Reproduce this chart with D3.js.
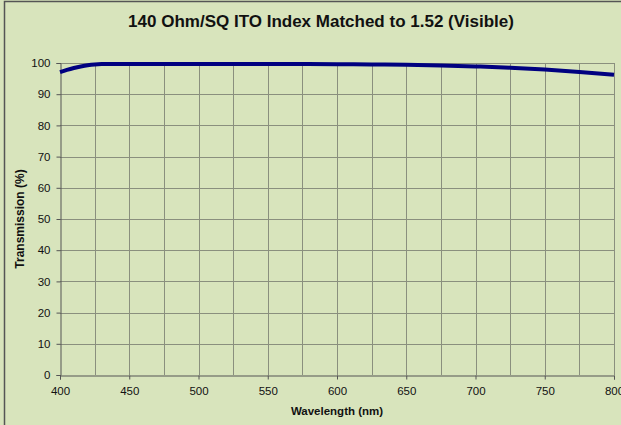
<!DOCTYPE html>
<html>
<head>
<meta charset="utf-8">
<script src="https://cdn.jsdelivr.net/npm/d3@7"></script>
<style>
  body { margin: 0; background: #d8e4bc; }
  svg { display: block; font-family: "Liberation Sans", Arial, sans-serif; }
</style>
</head>
<body>
<div id="chart"></div>
<script>
// Wavelength (nm) and transmission (%)
const wavelengths = [400, 405, 410, 415, 420, 425, 430, 450, 500, 550, 600, 625, 650, 675, 700, 725, 750, 775, 800];
const transmission = [97.1, 97.8, 98.4, 98.9, 99.3, 99.55, 99.65, 99.7, 99.7, 99.7, 99.6, 99.55, 99.45, 99.2, 98.9, 98.5, 97.9, 97.1, 96.2];
const xTicks = [400, 450, 500, 550, 600, 650, 700, 750, 800];
const xGrid = [425, 450, 475, 500, 525, 550, 575, 600, 625, 650, 675, 700, 725, 750, 775, 800];
const yTicks = [0, 10, 20, 30, 40, 50, 60, 70, 80, 90, 100];

const width = 621;
const height = 425;
const margin = { top: 63, right: 7, bottom: 50, left: 60 };

const data = wavelengths.map((w, i) => ({ w, t: transmission[i] }));

const svg = d3.select('#chart')
  .append('svg')
  .attr('width', width)
  .attr('height', height);

// background + outer frame (right/bottom edges fall outside the picture)
svg.append('rect')
  .attr('width', width).attr('height', height)
  .attr('fill', '#d8e4bc');
svg.append('rect')
  .attr('x', 4.5).attr('y', 1.5)
  .attr('width', 700).attr('height', 500)
  .attr('fill', 'none')
  .attr('stroke', '#555')
  .attr('stroke-width', 1.5);

const x = d3.scaleLinear()
  .domain([400, 800])
  .range([margin.left, width - margin.right]);

const y = d3.scaleLinear()
  .domain([0, 100])
  .range([height - margin.bottom, margin.top]);

// gridlines
const grid = svg.append('g').attr('stroke', '#8a8f7e').attr('stroke-width', 1);
grid.selectAll('line.h')
  .data(yTicks.filter(d => d > 0))
  .join('line')
  .attr('class', 'h')
  .attr('x1', x(400)).attr('x2', x(800))
  .attr('y1', d => Math.round(y(d)) + 0.5)
  .attr('y2', d => Math.round(y(d)) + 0.5);
grid.selectAll('line.v')
  .data(xGrid)
  .join('line')
  .attr('class', 'v')
  .attr('x1', d => Math.round(x(d)) + 0.5)
  .attr('x2', d => Math.round(x(d)) + 0.5)
  .attr('y1', y(0)).attr('y2', y(100));

// axes
const xAxis = d3.axisBottom(x).tickValues(xTicks).tickSize(4).tickPadding(7);
const yAxis = d3.axisLeft(y).tickValues(yTicks).tickSize(4).tickPadding(6);

const gx = svg.append('g')
  .attr('transform', `translate(0, ${Math.round(y(0)) + 0.5})`)
  .call(xAxis);
const gy = svg.append('g')
  .attr('transform', `translate(${Math.round(x(400)) + 0.5}, 0)`)
  .call(yAxis);

[gx, gy].forEach(g => {
  g.select('.domain').attr('stroke', '#555');
  g.selectAll('.tick line').attr('stroke', '#555');
  g.selectAll('.tick text')
    .attr('fill', '#111')
    .style('font-size', '11.5px')
    .style('font-family', '"Liberation Sans", Arial, sans-serif');
});

// curve
const line = d3.line()
  .x(d => x(d.w))
  .y(d => y(d.t))
  .curve(d3.curveMonotoneX);

svg.append('path')
  .datum(data)
  .attr('fill', 'none')
  .attr('stroke', '#000080')
  .attr('stroke-width', 4)
  .attr('d', line);

// title and axis labels
svg.append('text')
  .attr('x', 321).attr('y', 27)
  .attr('text-anchor', 'middle')
  .style('font-size', '17px')
  .style('font-weight', 'bold')
  .attr('fill', '#111')
  .text('140 Ohm/SQ ITO Index Matched to 1.52 (Visible)');

svg.append('text')
  .attr('x', (x(400) + x(800)) / 2).attr('y', 415)
  .attr('text-anchor', 'middle')
  .style('font-size', '11.5px')
  .style('font-weight', 'bold')
  .attr('fill', '#111')
  .text('Wavelength (nm)');

svg.append('text')
  .attr('transform', `translate(24, ${(y(0) + y(100)) / 2}) rotate(-90)`)
  .attr('text-anchor', 'middle')
  .style('font-size', '12px')
  .style('font-weight', 'bold')
  .attr('fill', '#111')
  .text('Transmission (%)');
</script>
</body>
</html>
